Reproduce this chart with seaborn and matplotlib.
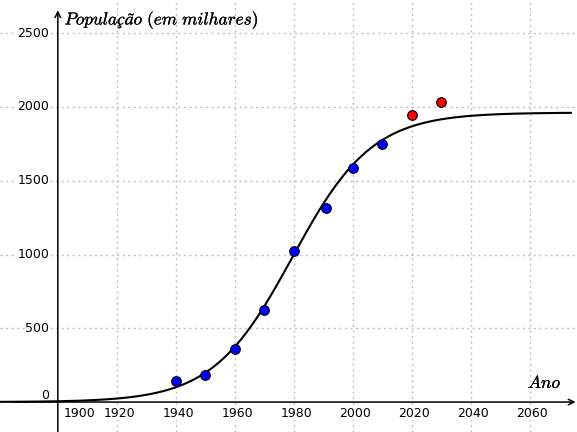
import numpy as np
import pandas as pd
import matplotlib
matplotlib.use("Agg")
import matplotlib.pyplot as plt
import matplotlib.patheffects as pe
import seaborn as sns

# Observed data (population in thousands)
anos_obs = [1940, 1950, 1960, 1970, 1980, 1991, 2000, 2010]
pop_obs = [140, 180, 360, 622, 1026, 1315, 1589, 1751]
# Projections (red)
anos_proj = [2020, 2030]
pop_proj = [1946, 2035]

# Logistic model parameters
K = 1962
r = 0.074
t0 = 1979.5

x_ticks = [1900, 1920, 1940, 1960, 1980, 2000, 2020, 2040, 2060]
y_ticks = [0, 500, 1000, 1500, 2000, 2500]

sns.set_style("white")
plt.rcParams['mathtext.fontset'] = 'cm'
plt.rcParams['text.color'] = 'black'

fig = plt.figure(figsize=(5.77, 4.32), dpi=100)
ax = fig.add_axes([0, 0, 1, 1])

x0, x1 = 1880.4, 2076.0
y0, y1 = -203, 2725
ax.set_xlim(x0, x1)
ax.set_ylim(y0, y1)
for s in ax.spines.values():
    s.set_visible(False)
ax.set_xticks([])
ax.set_yticks([])

grid_kw = dict(color="#c0c0c0", lw=1.0, ls=(0, (1.5, 2.5)), zorder=0)
for xv in x_ticks[1:]:
    ax.axvline(xv, **grid_kw)
for yv in y_ticks[1:]:
    ax.axhline(yv, **grid_kw)

# axes with arrows
ax.annotate("", xy=(x1 - 0.5, 0), xytext=(1884.8, 0),
            arrowprops=dict(arrowstyle="->", color="black", lw=1.1, shrinkA=0, shrinkB=0), zorder=3)
ax.annotate("", xy=(1900, 2655), xytext=(1900, y0),
            arrowprops=dict(arrowstyle="->", color="black", lw=1.1, shrinkA=0, shrinkB=0), zorder=3)

# model curve
t = np.linspace(1880.4, 2074, 500)
curve = pd.DataFrame({"ano": t, "pop": K / (1 + np.exp(-r * (t - t0)))})
sns.lineplot(data=curve, x="ano", y="pop", color="black", lw=1.5, ax=ax, zorder=4)

obs = pd.DataFrame({"ano": anos_obs, "pop": pop_obs})
proj = pd.DataFrame({"ano": anos_proj, "pop": pop_proj})
sns.scatterplot(data=obs, x="ano", y="pop", color="#0000ff", edgecolor="black",
                linewidth=0.8, s=48, ax=ax, zorder=5)
sns.scatterplot(data=proj, x="ano", y="pop", color="#ff0000", edgecolor="black",
                linewidth=0.8, s=48, ax=ax, zorder=5)
ax.set_xlabel("")
ax.set_ylabel("")

bbox = dict(facecolor="white", edgecolor="none", pad=0.5)
for xv in x_ticks:
    dx = 16 if xv == 1900 else 1.8
    ax.annotate(str(xv), xy=(xv, 0), xytext=(dx, -8), textcoords="offset points",
                ha="center", va="center", fontsize=9, color="black", bbox=bbox, zorder=2)
for yv in y_ticks:
    dy = 5 if yv == 0 else 0
    ax.annotate(str(yv), xy=(1900, yv), xytext=(-6, dy), textcoords="offset points",
                ha="right", va="center", fontsize=9, color="black", bbox=bbox, zorder=2)

stroke = [pe.withStroke(linewidth=0.2, foreground="black")]
ax.text(1902.3, 2590, r"$\mathit{População\ (em\ milhares)}$", fontsize=12.5,
        color="black", ha="left", va="center", zorder=6, path_effects=stroke)
ax.text(2070.8, 130, r"$\mathit{Ano}$", fontsize=12.5, color="black",
        ha="right", va="center", zorder=6, path_effects=stroke)

fig.savefig("out.png", dpi=100)
